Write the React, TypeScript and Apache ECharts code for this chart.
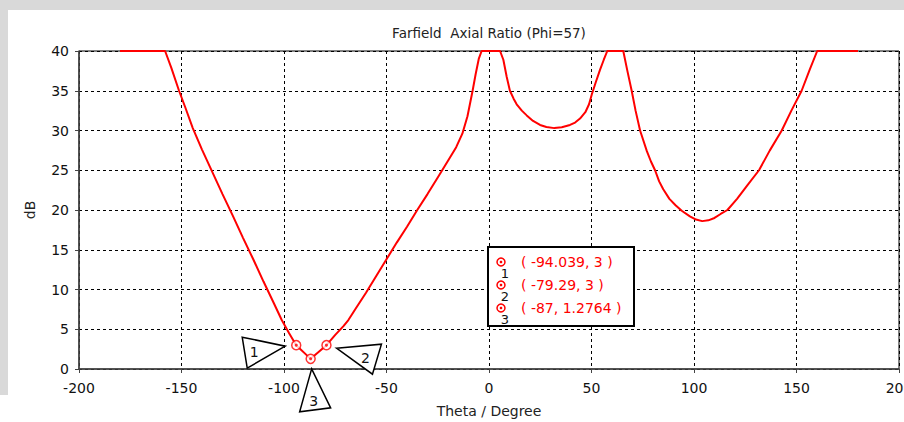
import React, { useEffect, useRef } from "react";
import * as echarts from "echarts";

// Farfield axial ratio curve (Phi = 57)
const thetaDeg = [
  -180, -170, -158, -155, -151.2, -148, -144.5, -140, -135, -130, -125, -120, -115, -110, -105,
  -101.1, -97.5, -94.039, -87, -79.29, -75, -71, -68.6, -65, -60, -55, -50, -45, -40, -35, -30, -25,
  -20, -16, -13, -10.5, -8, -6.5, -5, -3.6, 0, 5.4, 7, 8.6, 10.2, 12, 13.5, 16, 18.4, 21.5, 24.9, 28,
  31.9, 35.5, 39.5, 42, 44.4, 47, 48.8, 50.1, 52, 54.1, 56, 57.7, 62, 65.5, 67.5, 69.6, 71.5, 73.7,
  77, 79, 81, 83, 85, 88, 91, 94, 98, 101, 104, 107, 110, 113, 116.3, 121, 126, 131.7, 137, 142.8,
  147.5, 152.5, 156.5, 160.1, 170, 180,
];
const axialRatioDb = [
  40, 40, 40, 37.9, 35, 32.8, 30.3, 27.6, 24.8, 22.0, 19.3, 16.5, 13.8, 11.0, 8.3,
  6.16, 4.5, 3, 1.2764, 3, 4.3, 5.4, 6.16, 7.6, 9.6, 11.7, 13.8, 15.9, 17.9, 20.0, 22.0, 24.1,
  26.2, 27.9, 29.6, 31.8, 35, 37.1, 39.0, 40, 40, 40, 38.9, 36.8, 35, 34.0, 33.3, 32.5, 31.9, 31.2, 30.7, 30.45,
  30.3, 30.4, 30.7, 31.0, 31.5, 32.3, 33.3, 34.5, 36.0, 37.6, 38.9, 40, 40, 40, 37.5, 35, 32.5, 30,
  27.4, 26.1, 25, 23.6, 22.6, 21.4, 20.6, 19.9, 19.2, 18.8, 18.6, 18.7, 19.0, 19.5, 20, 21.4, 23.1, 25, 27.5, 30,
  32.5, 35, 37.7, 40, 40, 40,
];

// Markers
const markerIds = ["1", "2", "3"];
const markerTheta = [-94.039, -79.29, -87];
const markerDb = [3, 3, 1.2764];

// Axes
const xMin = -200;
const xMax = 200;
const xStep = 50;
const yMin = 0;
const yMax = 40;
const yStep = 5;

const titleText = "Farfield  Axial Ratio (Phi=57)";
const xName = "Theta / Degree";
const yName = "dB";

const FONT = "DejaVu Sans";
const RED = "#ff0000";

export default function App() {
  const ref = useRef<HTMLDivElement>(null);

  useEffect(() => {
    document.body.style.margin = "0";
    const chart = echarts.init(ref.current as HTMLDivElement, null, { renderer: "svg" });
    const markerData = markerTheta.map((t, i) => [t, markerDb[i]]);

    chart.setOption({
      animation: false,
      backgroundColor: "#ffffff",
      grid: {
        left: 79,
        right: 5,
        top: 51,
        bottom: 53,
        containLabel: false,
        outerBoundsMode: "none",
        show: true,
        borderColor: "#000",
        borderWidth: 1,
      },
      xAxis: {
        type: "value",
        min: xMin,
        max: xMax,
        interval: xStep,
        name: xName,
        nameLocation: "middle",
        nameGap: 35,
        nameTextStyle: { color: "#222", fontFamily: FONT, fontSize: 14 },
        axisLine: { show: true, onZero: false, lineStyle: { color: "#444", width: 1.5 } },
        axisTick: { show: true, length: 4, lineStyle: { color: "#444" } },
        axisLabel: { margin: 12, color: "#111", fontFamily: FONT, fontSize: 14 },
        splitLine: { show: true, lineStyle: { type: [3, 3], color: "#000", width: 1 } },
      },
      yAxis: {
        type: "value",
        min: yMin,
        max: yMax,
        interval: yStep,
        name: yName,
        nameLocation: "middle",
        nameRotate: 90,
        nameGap: 42,
        nameTextStyle: { color: "#222", fontFamily: FONT, fontSize: 14 },
        axisLine: { show: true, onZero: false, lineStyle: { color: "#444", width: 1.5 } },
        axisTick: { show: true, length: 4, lineStyle: { color: "#444" } },
        axisLabel: { margin: 10, color: "#111", fontFamily: FONT, fontSize: 14 },
        splitLine: { show: true, lineStyle: { type: [3, 3], color: "#000", width: 1 } },
      },
      series: [
        {
          type: "line",
          data: thetaDeg.map((t, i) => [t, axialRatioDb[i]]),
          showSymbol: false,
          clip: false,
          smooth: false,
          lineStyle: { color: RED, width: 2 },
          z: 3,
        },
        {
          type: "scatter",
          data: markerData,
          symbol: "circle",
          symbolSize: 9,
          itemStyle: { color: "#fff", borderColor: RED, borderWidth: 1.5 },
          z: 5,
        },
        {
          type: "scatter",
          data: markerData,
          symbol: "circle",
          symbolSize: 3,
          itemStyle: { color: RED },
          z: 6,
        },
      ],
    });

    const px = markerData.map((d) => chart.convertToPixel({ xAxisIndex: 0, yAxisIndex: 0 }, d) as number[]);

    // callout triangles, offsets relative to each marker
    const tri = [
      { pts: [[-54, -8], [-11, 1], [-49, 23]], lab: [-42, 7] },
      { pts: [[10, 3], [55, -1], [46, 29]], lab: [39, 13] },
      { pts: [[1, 10], [-11, 53], [20, 49]], lab: [3, 42] },
    ];
    const graphics: any[] = [
      { type: "rect", shape: { x: 0, y: 0, width: 904, height: 10 }, style: { fill: "#d9d9d9" }, z: -1 },
      { type: "rect", shape: { x: 0, y: 0, width: 8, height: 395 }, style: { fill: "#d9d9d9" }, z: -1 },
      {
        type: "text",
        x: 489,
        y: 33,
        style: {
          text: titleText,
          fill: "#222",
          font: `13.5px "${FONT}"`,
          textAlign: "center",
          textVerticalAlign: "middle",
        },
        z: 10,
      },
    ];
    tri.forEach((t, i) => {
      const [mx, my] = px[i];
      graphics.push({
        type: "polygon",
        shape: { points: t.pts.map(([dx, dy]) => [mx + dx, my + dy]) },
        style: { fill: "#fff", stroke: "#000", lineWidth: 1.5 },
        z: 10,
      });
      graphics.push({
        type: "text",
        x: mx + t.lab[0],
        y: my + t.lab[1],
        style: {
          text: markerIds[i],
          fill: "#111",
          font: `14px "${FONT}"`,
          textAlign: "center",
          textVerticalAlign: "middle",
        },
        z: 11,
      });
    });

    // marker readout box
    const boxX = 488;
    const boxY = 247;
    graphics.push({
      type: "rect",
      shape: { x: boxX, y: boxY, width: 146, height: 79 },
      style: { fill: "#fff", stroke: "#000", lineWidth: 2 },
      z: 10,
    });
    const rowY = [262, 285, 308];
    markerIds.forEach((id, i) => {
      const y = rowY[i];
      graphics.push({
        type: "circle",
        shape: { cx: boxX + 13, cy: y, r: 4 },
        style: { fill: "#fff", stroke: RED, lineWidth: 1.5 },
        z: 11,
      });
      graphics.push({
        type: "circle",
        shape: { cx: boxX + 13, cy: y, r: 1.3 },
        style: { fill: RED },
        z: 12,
      });
      graphics.push({
        type: "text",
        x: boxX + 17,
        y: y + 11,
        style: {
          text: id,
          fill: "#111",
          font: `13px "${FONT}"`,
          textAlign: "center",
          textVerticalAlign: "middle",
        },
        z: 12,
      });
      graphics.push({
        type: "text",
        x: boxX + 33,
        y: y,
        style: {
          text: `( ${markerTheta[i]}, ${markerDb[i]} )`,
          fill: RED,
          font: `14px "${FONT}"`,
          textAlign: "left",
          textVerticalAlign: "middle",
        },
        z: 12,
      });
    });

    chart.setOption({ graphic: graphics });

    return () => {
      chart.dispose();
    };
  }, []);

  return (
    <div
      ref={ref}
      style={{ position: "fixed", left: 0, top: 0, width: 904, height: 422 }}
    />
  );
}
